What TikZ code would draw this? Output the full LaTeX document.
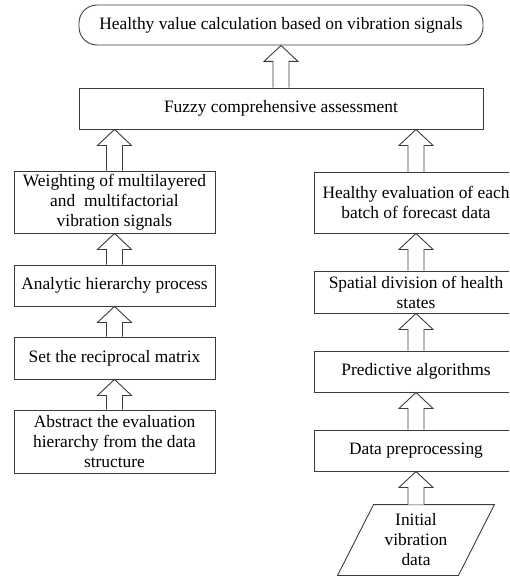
\documentclass[tikz,border=0pt]{standalone}
\usepackage{fontspec}
\setmainfont{Liberation Serif}
\usetikzlibrary{calc}
\definecolor{linecol}{RGB}{60,60,60}
\newcommand{\upblock}[2]{\draw[barrow] let \p1=(#1.north), \p2=(#2.south) in (\x1-8pt,\y1) -- (\x1-8pt,\y2-16pt) -- (\x1-17pt,\y2-16pt) -- (\x1,\y2) -- (\x1+17pt,\y2-16pt) -- (\x1+8pt,\y2-16pt) -- (\x1+8pt,\y1);}
\begin{document}
\begin{tikzpicture}[x=1pt,y=-1pt,
  box/.style={draw=linecol, line width=0.9pt, inner sep=0pt, align=center, font=\fontsize{17.4}{20}\selectfont, text=black},
  leftbox/.style={box, minimum width=201pt},
  rightbox/.style={box, minimum width=204pt},
  barrow/.style={draw=linecol, line width=0.9pt, fill=white}]
\clip (0,0) rectangle (509,578);
\node[box, rounded corners=18pt, minimum width=404pt, minimum height=40pt] (top) at (281,25) {Healthy value calculation based on vibration signals};
\node[box, minimum width=404pt, minimum height=41pt] (fuzzy) at (281,108.5) {Fuzzy comprehensive assessment};
% left column
\node[leftbox, minimum height=62pt] (weight) at (114.5,202) {Weighting of multilayered\\and \ multifactorial\\vibration signals};
\node[leftbox, minimum height=41pt] (ahp) at (114.5,285.5) {Analytic hierarchy process};
\node[leftbox, minimum height=42pt] (recip) at (114.5,358) {Set the reciprocal matrix};
\node[leftbox, minimum height=63pt] (abstr) at (114.5,441.5) {Abstract the evaluation\\hierarchy from the data\\structure};
% right column
\node[rightbox, minimum height=61pt] (heval) at (416,202.5) {Healthy evaluation of each\\batch of forecast data};
\node[rightbox, minimum height=42pt] (spatial) at (416,292) {Spatial division of health\\states};
\node[rightbox, minimum height=41pt] (pred) at (416,371.5) {Predictive algorithms};
\node[rightbox, minimum height=41pt] (prep) at (416,450.5) {Data preprocessing};
\node[box, draw=none, minimum width=120pt, minimum height=70pt] (init) at (416,540) {Initial\\vibration\\data};
\draw[draw=linecol, line width=0.9pt] ([xshift=-18pt]init.south west) -- ([xshift=-18pt]init.south east) -- ([xshift=18pt]init.north east) -- ([xshift=18pt]init.north west) -- cycle;
% block arrows
\upblock{fuzzy}{top}
\upblock{weight}{fuzzy}
\upblock{ahp}{weight}
\upblock{recip}{ahp}
\upblock{abstr}{recip}
\upblock{heval}{fuzzy}
\upblock{spatial}{heval}
\upblock{pred}{spatial}
\upblock{prep}{pred}
\upblock{init}{prep}
\end{tikzpicture}
\end{document}
